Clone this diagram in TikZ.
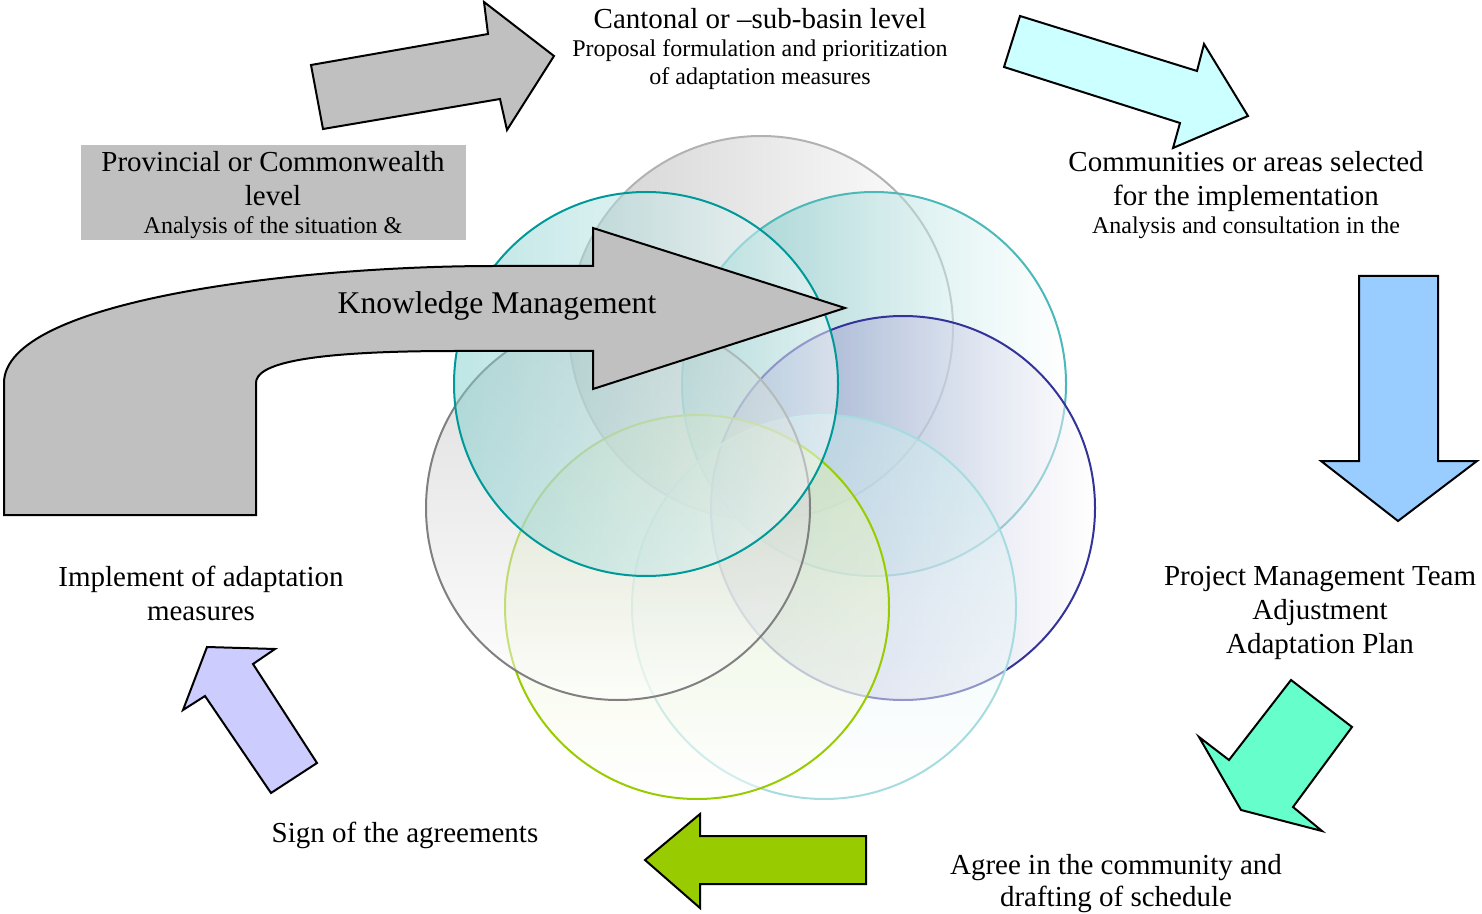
\documentclass[tikz,border=0pt]{standalone}
\usepackage{fontspec}
\setmainfont{Liberation Serif}
\definecolor{arrgray}{HTML}{C0C0C0}
\definecolor{arrcyan}{HTML}{CCFFFF}
\definecolor{arrblue}{HTML}{99CCFF}
\definecolor{arrmint}{HTML}{66FFCC}
\definecolor{arrlime}{HTML}{99CC00}
\definecolor{arrlav}{HTML}{CCCCFF}
\definecolor{ringteal}{HTML}{009999}
\definecolor{ringnavy}{HTML}{333399}
\definecolor{ringcyan}{HTML}{A6DCE0}
\newcommand{\smalltxt}{\fontsize{12}{14}\selectfont}

\begin{document}
\begin{tikzpicture}[x=0.5pt, y=-0.5pt,
   blockarrow/.style={draw=black, line width=1pt},
   disc/.style={line width=1pt, fill opacity=0.5},
   lbl/.style={font=\fontsize{14.5}{14}\selectfont, align=center, inner sep=0pt}]
   \useasboundingbox (0,0) rectangle (1482,914);

   % the seven rings
   \shadedraw[disc, left color=gray!70, right color=white, draw=gray!60] (761,328) circle (96pt);
   \shadedraw[disc, left color=ringteal!65, right color=white, draw=ringteal!70] (874,384) circle (96pt);
   \shadedraw[disc, left color=ringnavy!70, right color=white, draw=ringnavy] (903,508) circle (96pt);
   \shadedraw[disc, top color=ringcyan!60, bottom color=white, draw=ringcyan] (824,607) circle (96pt);
   \shadedraw[disc, top color=arrlime!35, bottom color=white, draw=arrlime] (697,607) circle (96pt);
   \shadedraw[disc, top color=gray!55, bottom color=white, draw=gray] (618,508) circle (96pt);
   \shadedraw[disc, left color=ringteal!50, right color=white, draw=ringteal] (646,384) circle (96pt);

   % cycle of arrows
   \draw[blockarrow, fill=arrgray] (311,65) -- (488,34) -- (484,2) -- (554,56) -- (507,130) -- (500,99) -- (323,129) -- cycle;
   \draw[blockarrow, fill=arrcyan] (1020,16) -- (1197,71) -- (1204,44) -- (1248,116) -- (1173,148) -- (1180,123) -- (1004,67) -- cycle;
   \draw[blockarrow, fill=arrblue] (1359,276) -- (1438,276) -- (1438,461) -- (1477,461) -- (1398,521) -- (1321,461) -- (1359,461) -- cycle;
   \draw[blockarrow, fill=arrmint] (1291,680) -- (1352,727) -- (1293,807) -- (1322,831) -- (1241,810) -- (1199,737) -- (1229,760) -- cycle;
   \draw[blockarrow, fill=arrlime] (645,860) -- (700,814) -- (700,836) -- (866,836) -- (866,884) -- (700,884) -- (700,908) -- cycle;
   \draw[blockarrow, fill=arrlav] (207,647) -- (275,649) -- (253,664) -- (317,763) -- (271,793) -- (205,696) -- (183,710) -- cycle;

   % knowledge arrow
   \draw[blockarrow, fill=arrgray] (4,515) -- (4,383) .. controls (4,300) and (300,266) .. (494,266) -- (593,266) -- (593,228)
      -- (845,308) -- (593,389) -- (593,351) -- (455,351) .. controls (300,351) and (256,365) .. (256,383) -- (256,515) -- cycle;

   \fill[arrgray] (81,145) rectangle (466,240);

   \node[lbl, anchor=north] (cantonal) at (760,8) {Cantonal or –sub-basin level\\ {\smalltxt Proposal formulation and prioritization}\\ {\smalltxt of adaptation measures}};
   \node[lbl, anchor=north] (provincial) at (273,151) {Provincial or Commonwealth\\[3pt] level\\ {\smalltxt Analysis of the situation \&}};
   \node[lbl, anchor=north] (communities) at (1246,151) {Communities or areas selected\\[3pt] for the implementation\\ {\smalltxt Analysis and consultation in the}};
   \node[lbl, font=\fontsize{15.8}{18}\selectfont, anchor=base] (knowledge) at (497,314) {Knowledge Management};
   \node[lbl, anchor=north] (team) at (1320,566) {Project Management Team\\[3pt] Adjustment\\[3pt] Adaptation Plan};
   \node[lbl, anchor=north] (agree) at (1116,854) {Agree in the community and\\[2pt] drafting of schedule};
   \node[lbl, anchor=base] (sign) at (405,842) {Sign of the agreements};
   \node[lbl, anchor=north] (implement) at (201,566) {Implement of adaptation\\[3pt] measures};
\end{tikzpicture}
\end{document}
